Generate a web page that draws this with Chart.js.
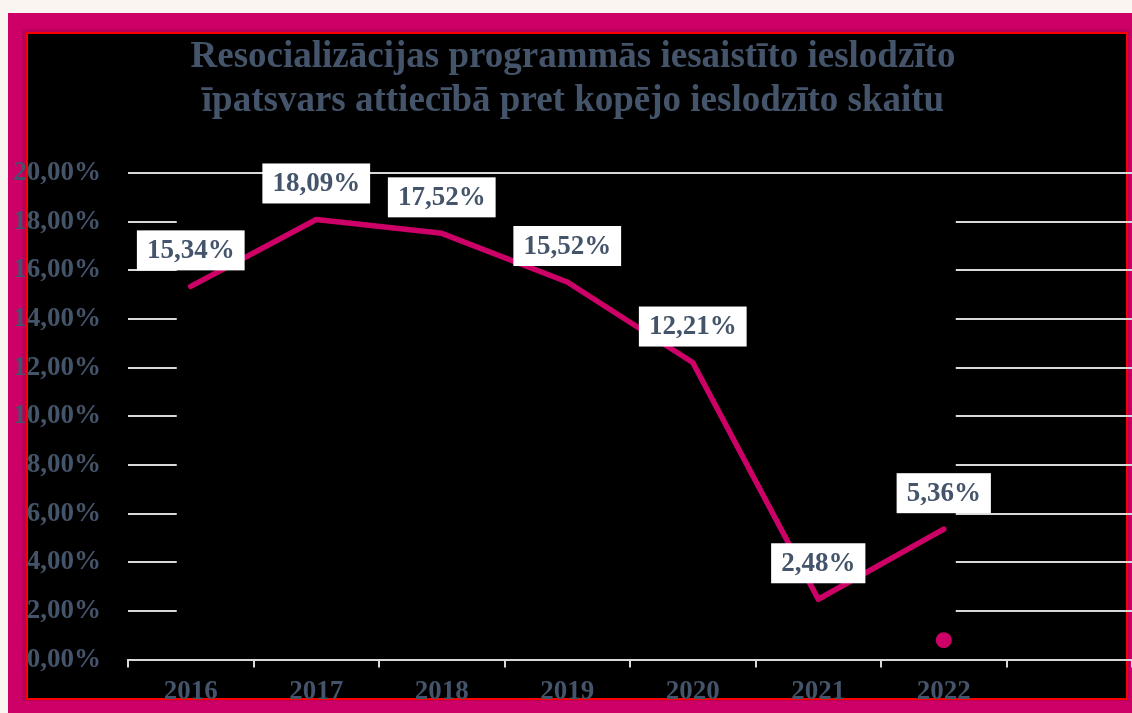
<!DOCTYPE html>
<html>
<head>
<meta charset="utf-8">
<script src="https://cdn.jsdelivr.net/npm/chart.js@4"></script>
<style>
  html, body { margin: 0; padding: 0; overflow: hidden; background: #FBF5F1; }
  #wrap { position: absolute; left: 0; top: 0; width: 1140px; height: 718px; }
</style>
</head>
<body>
<div id="wrap"><canvas id="lineChart"></canvas></div>
<script>
let magenta = '#CC0066';
let slate = '#44546A';
let lightGrey = '#D9D9D9';
let serif = '"Liberation Serif", "Times New Roman", serif';

// data
const years = ['2016', '2017', '2018', '2019', '2020', '2021', '2022', ''];
const shares = [15.34, 18.09, 17.52, 15.52, 12.21, 2.48, 5.36, null];
const markerDot = [null, null, null, null, null, null, 0.8, null];
const yTicks = [0, 2, 4, 6, 8, 10, 12, 14, 16, 18, 20];
const titleLines = [
  'Resocializācijas programmās iesaistīto ieslodzīto',
  'īpatsvars attiecībā pret kopējo ieslodzīto skaitu'
];

function pct(v) {
  return v.toFixed(2).replace('.', ',') + '%';
}

// frame behind everything
const framePlugin = {
  id: 'frame',
  beforeDraw(chart) {
    const ctx = chart.ctx;
    ctx.save();
    ctx.fillStyle = '#FBF5F1';
    ctx.fillRect(0, 0, chart.width, chart.height);
    ctx.fillStyle = magenta;
    ctx.fillRect(8, 13, 1132 - 8, 713 - 13);
    ctx.fillStyle = '#B8005C';
    ctx.fillRect(22, 29, 1108, 672);
    ctx.fillStyle = '#FF0000';
    ctx.fillRect(26, 32, 1102, 668);
    ctx.fillStyle = '#000000';
    ctx.fillRect(28, 34, 1098, 664);
    ctx.restore();
  }
};

// black plot fill that hides the inner grid lines
const plotFillPlugin = {
  id: 'plotFill',
  beforeDatasetsDraw(chart) {
    const x = chart.scales.x, y = chart.scales.y;
    const ctx = chart.ctx;
    const left = x.getPixelForValue(0) - 14;
    const right = x.getPixelForValue(6) + 12;
    const top = y.getPixelForValue(19);
    const bottom = y.getPixelForValue(1);
    ctx.save();
    ctx.fillStyle = '#000000';
    ctx.fillRect(left, top, right - left, bottom - top);
    ctx.restore();
  }
};

// white boxed value labels
const valueLabels = {
  id: 'valueLabels',
  afterDatasetsDraw(chart) {
    const ctx = chart.ctx;
    const meta = chart.getDatasetMeta(0);
    ctx.save();
    ctx.font = 'bold 27px ' + serif;
    ctx.textAlign = 'center';
    ctx.textBaseline = 'middle';
    meta.data.forEach((pt, i) => {
      const v = shares[i];
      if (v === null) return;
      const txt = pct(v);
      const w = ctx.measureText(txt).width + 20;
      const h = 40;
      const cx = pt.x;
      const cy = pt.y - 36;
      ctx.fillStyle = '#FFFFFF';
      ctx.fillRect(cx - w / 2, cy - h / 2, w, h);
      ctx.fillStyle = slate;
      ctx.fillText(txt, cx, cy + 1);
    });
    ctx.restore();
  }
};

const data = {
  labels: years,
  datasets: [{
    label: 'Īpatsvars',
    data: shares,
    borderColor: magenta,
    backgroundColor: magenta,
    borderWidth: 5.5,
    borderCapStyle: 'round',
    borderJoinStyle: 'round',
    pointRadius: 0,
    tension: 0,
  }, {
    label: 'marker',
    data: markerDot,
    showLine: false,
    pointRadius: 8,
    pointBackgroundColor: magenta,
    pointBorderWidth: 0,
  }]
};

const config = {
  type: 'line',
  data,
  options: {
    responsive: true,
    maintainAspectRatio: false,
    animation: false,
    layout: {
      padding: { left: 13, right: 7, top: 0, bottom: 2 }
    },
    plugins: {
      legend: { display: false },
      tooltip: { enabled: false },
      title: {
        display: true,
        text: titleLines,
        color: slate,
        font: { family: serif, size: 37, weight: 'bold', lineHeight: '44px' },
        padding: { top: 35, bottom: 50 },
      }
    },
    scales: {
      x: {
        offset: true,
        grid: {
          offset: true,
          drawOnChartArea: false,
          drawTicks: true,
          tickLength: 8,
          color: lightGrey,
          lineWidth: 2,
        },
        border: { display: true, color: lightGrey, width: 2 },
        ticks: {
          color: slate,
          font: { family: serif, size: 27, weight: 'bold' },
          padding: 8,
          maxRotation: 0,
        }
      },
      y: {
        min: 0,
        max: 20,
        afterBuildTicks(axis) {
          axis.ticks = yTicks.map(v => ({ value: v }));
        },
        afterFit(axis) {
          axis.width = 115;
        },
        grid: {
          color: lightGrey,
          lineWidth: 2,
          drawTicks: false,
        },
        border: { display: false },
        ticks: {
          color: slate,
          font: { family: serif, size: 27, weight: 'bold' },
          padding: 27,
          callback: v => pct(v),
        }
      }
    }
  },
  plugins: [framePlugin, plotFillPlugin, valueLabels]
};

const myChart = new Chart(document.getElementById('lineChart'), config);
</script>
</body>
</html>
